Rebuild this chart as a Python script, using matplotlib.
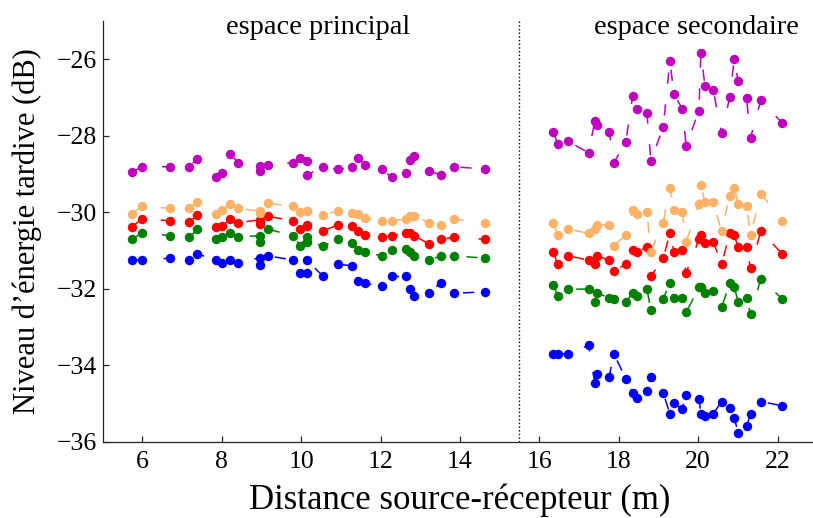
import matplotlib
matplotlib.use("Agg")
import matplotlib.pyplot as plt

plt.rcParams['font.family'] = ['Liberation Serif', 'DejaVu Serif']
plt.rcParams['lines.scale_dashes'] = False

# Distances source-récepteur (m)
x_principal = [5.73, 5.98, 6.70, 7.18, 7.39, 7.85, 8.02, 8.21, 8.42, 8.96, 8.96, 9.17,
               9.80, 9.97, 10.14, 10.14, 10.56, 10.94, 11.29, 11.44, 11.61, 12.03, 12.28,
               12.64, 12.75, 12.85, 13.22, 13.52, 13.85, 14.63]
x_secondaire = [16.35, 16.46, 16.73, 17.24, 17.40, 17.45, 17.76, 17.88, 18.18, 18.35,
                18.45, 18.71, 18.81, 19.12, 19.29, 19.39, 19.60, 19.70, 20.02, 20.07,
                20.17, 20.38, 20.59, 20.80, 20.91, 21.01, 21.22, 21.32, 21.58, 22.12]

# Niveau d'énergie tardive (dB) - espace principal
bleu_principal = [-31.25, -31.25, -31.20, -31.25, -31.09, -31.25, -31.32, -31.25, -31.32, -31.19,
                  -31.38, -31.14, -31.25, -31.58, -31.58, -31.25, -31.68, -31.36, -31.40, -31.79,
                  -31.86, -31.94, -31.68, -31.68, -32.01, -32.18, -32.12, -31.84, -32.12, -32.08]
vert_principal = [-30.71, -30.55, -30.61, -30.65, -30.45, -30.71, -30.65, -30.55, -30.65, -30.61,
                  -30.77, -30.44, -30.62, -30.87, -30.65, -30.77, -30.88, -30.71, -30.81, -30.99,
                  -31.05, -31.14, -30.99, -30.97, -31.03, -31.14, -31.25, -31.14, -31.14, -31.20]
rouge_principal = [-30.39, -30.18, -30.22, -30.26, -30.07, -30.39, -30.36, -30.18, -30.27, -30.20,
                   -30.31, -30.11, -30.22, -30.45, -30.33, -30.36, -30.48, -30.33, -30.36, -30.48,
                   -30.59, -30.64, -30.62, -30.53, -30.55, -30.61, -30.83, -30.71, -30.65, -30.71]
orange_principal = [-30.05, -29.84, -29.90, -29.90, -29.72, -30.05, -29.94, -29.78, -29.90, -29.97,
                    -30.03, -29.77, -29.84, -30.00, -29.96, -29.98, -30.07, -29.96, -30.01, -30.05,
                    -30.16, -30.22, -30.22, -30.18, -30.11, -30.11, -30.27, -30.33, -30.18, -30.27]
violet_principal = [-28.96, -28.81, -28.81, -28.81, -28.60, -29.09, -28.98, -28.49, -28.70, -28.91,
                    -28.79, -28.76, -28.70, -28.59, -28.65, -29.03, -28.81, -28.88, -28.81, -28.59,
                    -28.76, -28.87, -29.09, -28.98, -28.63, -28.53, -28.91, -29.03, -28.81, -28.87]

# Niveau d'énergie tardive (dB) - espace secondaire
bleu_secondaire = [-33.70, -33.70, -33.70, -33.48, -34.47, -34.24, -34.30, -33.70, -34.36, -34.73,
                   -34.85, -34.67, -34.30, -34.73, -35.27, -34.99, -35.15, -34.78, -34.89, -35.27,
                   -35.33, -35.27, -34.95, -35.11, -35.39, -35.76, -35.60, -35.27, -34.95, -35.06]
vert_secondaire = [-31.90, -32.18, -32.01, -32.01, -32.34, -32.12, -32.23, -32.27, -32.34, -32.12,
                   -32.18, -32.01, -32.55, -32.27, -31.84, -32.23, -32.23, -32.62, -31.96, -31.96,
                   -32.12, -32.06, -32.49, -31.84, -31.96, -32.34, -32.23, -32.67, -31.74, -32.27]
rouge_secondaire = [-31.03, -31.36, -31.14, -31.25, -31.36, -31.14, -31.25, -31.53, -31.36, -30.99,
                    -31.03, -30.92, -31.68, -31.20, -30.55, -31.03, -30.99, -31.58, -30.71, -30.59,
                    -30.81, -30.77, -31.36, -30.55, -30.60, -30.92, -30.92, -31.47, -30.49, -31.09]
orange_secondaire = [-30.27, -30.60, -30.44, -30.55, -30.43, -30.33, -30.33, -30.87, -30.60, -29.94,
                     -30.05, -30.00, -31.03, -30.27, -29.36, -29.95, -30.00, -30.77, -29.79, -29.30,
                     -29.74, -29.74, -30.49, -29.57, -29.36, -29.78, -29.84, -30.60, -29.51, -30.22]
violet_secondaire = [-27.89, -28.21, -28.15, -28.44, -27.61, -27.73, -27.89, -28.70, -28.16, -26.96,
                     -27.29, -27.40, -28.65, -27.78, -26.04, -26.91, -27.29, -28.27, -27.34, -25.83,
                     -26.69, -26.80, -27.94, -26.98, -25.99, -26.58, -27.02, -28.05, -27.07, -27.67]

series = [
    ('#0000ff', bleu_principal, bleu_secondaire),
    ('#008000', vert_principal, vert_secondaire),
    ('#ff0000', rouge_principal, rouge_secondaire),
    ('#ffb266', orange_principal, orange_secondaire),
    ('#bf00bf', violet_principal, violet_secondaire),
]

fig = plt.figure(figsize=(8.13, 5.18), dpi=100)
ax = fig.add_axes([0.1262, 0.1473, 0.879, 0.8121])

for color, y_p, y_s in series:
    for xs, ys in ((x_principal, y_p), (x_secondaire, y_s)):
        ax.plot(xs, ys, color=color, lw=1.1, linestyle=(0, (8.1, 14.9)),
                marker='o', ms=6.8, mfc=color, mec=color, mew=0)

ax.axvline(15.5, color='k', ls=':', lw=1.0)

ax.set_xlim(5, 23)
ax.set_ylim(-36, -25)
ax.set_xticks(list(range(6, 23, 2)))
ax.set_yticks([-36, -34, -32, -30, -28, -26])
for s in ('top', 'right'):
    ax.spines[s].set_visible(False)
for s in ('left', 'bottom'):
    ax.spines[s].set_color('#262626')
    ax.spines[s].set_linewidth(0.9)
ax.tick_params(direction='in', length=4, width=0.9, color='#262626', labelsize=18.5)
ax.tick_params(axis='x', pad=7)
ax.tick_params(axis='y', pad=4)

ax.set_xlabel('Distance source-récepteur (m)', fontsize=25)
ax.set_ylabel("Niveau d’énergie tardive (dB)", fontsize=22)
ax.xaxis.label.set_va('center')
ax.yaxis.label.set_va('center')
ax.xaxis.set_label_coords(0.5, -0.138)
ax.yaxis.set_label_coords(-0.105, 0.5)

ax.text(10.43, -25.18, 'espace principal', fontsize=20.5, ha='center', va='center')
ax.text(19.95, -25.18, 'espace secondaire', fontsize=20.5, ha='center', va='center')

fig.savefig('out.png', dpi=100)
